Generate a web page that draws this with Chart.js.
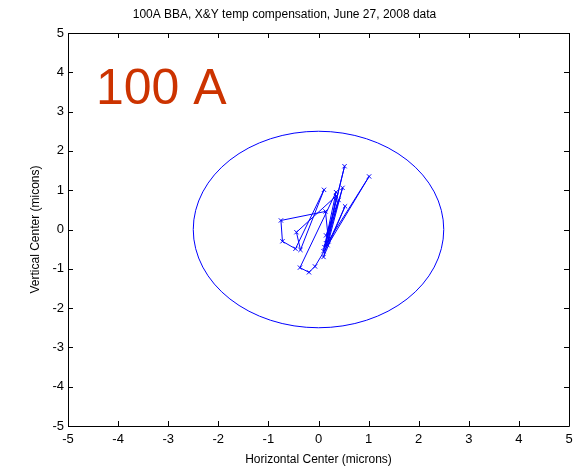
<!DOCTYPE html>
<html>
<head>
<meta charset="utf-8">
<script src="https://cdn.jsdelivr.net/npm/chart.js@4"></script>
<style>
  html, body { margin: 0; padding: 0; background: #fff; }
  #wrap { width: 581px; height: 469px; }
</style>
</head>
<body>
<div id="wrap"><canvas id="c" width="581" height="469"></canvas></div>
<script>
// Beam-based alignment centre positions (microns), in measurement order
const xCenter = [0.15, 0.52, 0.10, 0.35, -0.37, -0.19, -0.07, 1.01, 0.12, 0.48, 0.20, 0.14, -0.75, -0.72, -0.46, 0.11, -0.36, -0.44, 0.35, 0.18, 0.53, 0.10, 0.40, 0.15];
const yCenter = [-0.35, 1.61, -0.55, 0.95, -0.97, -1.09, -0.94, 1.35, -0.45, 1.06, -0.30, 0.46, 0.23, -0.30, -0.49, 1.01, -0.52, -0.07, 0.85, -0.40, 0.59, -0.70, 0.75, -0.15];

// Tolerance circle radius (microns)
const toleranceRadius = 2.5;

// Axis ticks
const xTicks = [-5, -4, -3, -2, -1, 0, 1, 2, 3, 4, 5];
const yTicks = [-5, -4, -3, -2, -1, 0, 1, 2, 3, 4, 5];

const titleText = '100A BBA, X&Y temp compensation, June 27, 2008 data';
const xTitle = 'Horizontal Center (microns)';
const yTitle = 'Vertical Center (micons)';
const currentLabel = '100 A';

const FONT = '"Liberation Sans", Arial, Helvetica, sans-serif';

const points = xCenter.map((x, i) => ({ x: x, y: yCenter[i] }));

// Box frame with inward tick marks on all four sides, plus the tolerance circle
const framePlugin = {
  id: 'frame',
  beforeDatasetsDraw(chart) {
    const { ctx, chartArea: a, scales: { x, y } } = chart;
    const cx = x.getPixelForValue(0), cy = y.getPixelForValue(0);
    const rx = Math.abs(x.getPixelForValue(toleranceRadius) - cx);
    const ry = Math.abs(y.getPixelForValue(toleranceRadius) - cy);
    ctx.save();
    ctx.strokeStyle = '#0000ff';
    ctx.lineWidth = 1;
    ctx.beginPath();
    ctx.ellipse(cx, cy, rx, ry, 0, 0, Math.PI * 2);
    ctx.stroke();
    ctx.restore();
  },
  afterDraw(chart) {
    const { ctx, chartArea: a, scales: { x, y } } = chart;
    const L = 5;
    ctx.save();
    ctx.strokeStyle = '#000';
    ctx.lineWidth = 1;
    ctx.beginPath();
    ctx.rect(Math.round(a.left) + 0.5, Math.round(a.top) + 0.5,
             Math.round(a.right - a.left), Math.round(a.bottom - a.top));
    xTicks.forEach(v => {
      const px = Math.round(x.getPixelForValue(v)) + 0.5;
      ctx.moveTo(px, a.bottom); ctx.lineTo(px, a.bottom - L);
      ctx.moveTo(px, a.top); ctx.lineTo(px, a.top + L);
    });
    yTicks.forEach(v => {
      const py = Math.round(y.getPixelForValue(v)) + 0.5;
      ctx.moveTo(a.left, py); ctx.lineTo(a.left + L, py);
      ctx.moveTo(a.right, py); ctx.lineTo(a.right - L, py);
    });
    ctx.stroke();

    // Magnet current annotation
    ctx.fillStyle = '#cc3300';
    ctx.font = '50px ' + FONT;
    ctx.textBaseline = 'alphabetic';
    ctx.textAlign = 'left';
    ctx.fillText(currentLabel, 96, 104);
    ctx.restore();
  }
};

new Chart(document.getElementById('c'), {
  type: 'scatter',
  data: {
    datasets: [{
      data: points,
      showLine: true,
      borderColor: '#0000ff',
      backgroundColor: '#0000ff',
      borderWidth: 1,
      pointStyle: 'crossRot',
      pointRadius: 3,
      pointBorderWidth: 1,
      pointBorderColor: '#0000ff',
      tension: 0
    }]
  },
  options: {
    responsive: false,
    animation: false,
    layout: { padding: { left: 0, right: 12, top: 0, bottom: 0 } },
    plugins: {
      legend: { display: false },
      tooltip: { enabled: false },
      title: {
        display: true,
        text: titleText,
        color: '#000',
        font: { family: FONT, size: 12, weight: 'normal' },
        padding: { top: 7, bottom: 11.6 }
      }
    },
    scales: {
      x: {
        type: 'linear',
        min: -5, max: 5,
        afterBuildTicks(scale) { scale.ticks = xTicks.map(v => ({ value: v })); },
        afterFit(scale) { scale.height = 43; },
        grid: { display: false, drawTicks: false },
        border: { display: false },
        ticks: { color: '#000', padding: 6, font: { family: FONT, size: 13 }, maxRotation: 0, autoSkip: false },
        title: { display: true, text: xTitle, color: '#000', font: { family: FONT, size: 12 }, padding: { top: 0, bottom: 2 } }
      },
      y: {
        type: 'linear',
        min: -5, max: 5,
        afterBuildTicks(scale) { scale.ticks = yTicks.map(v => ({ value: v })); },
        afterFit(scale) { scale.width = 68; },
        grid: { display: false, drawTicks: false },
        border: { display: false },
        ticks: { color: '#000', padding: 4, font: { family: FONT, size: 13 }, autoSkip: false },
        title: { display: true, text: yTitle, color: '#000', font: { family: FONT, size: 12 }, padding: { top: 28, bottom: 0 } }
      }
    }
  },
  plugins: [framePlugin]
});
</script>
</body>
</html>
